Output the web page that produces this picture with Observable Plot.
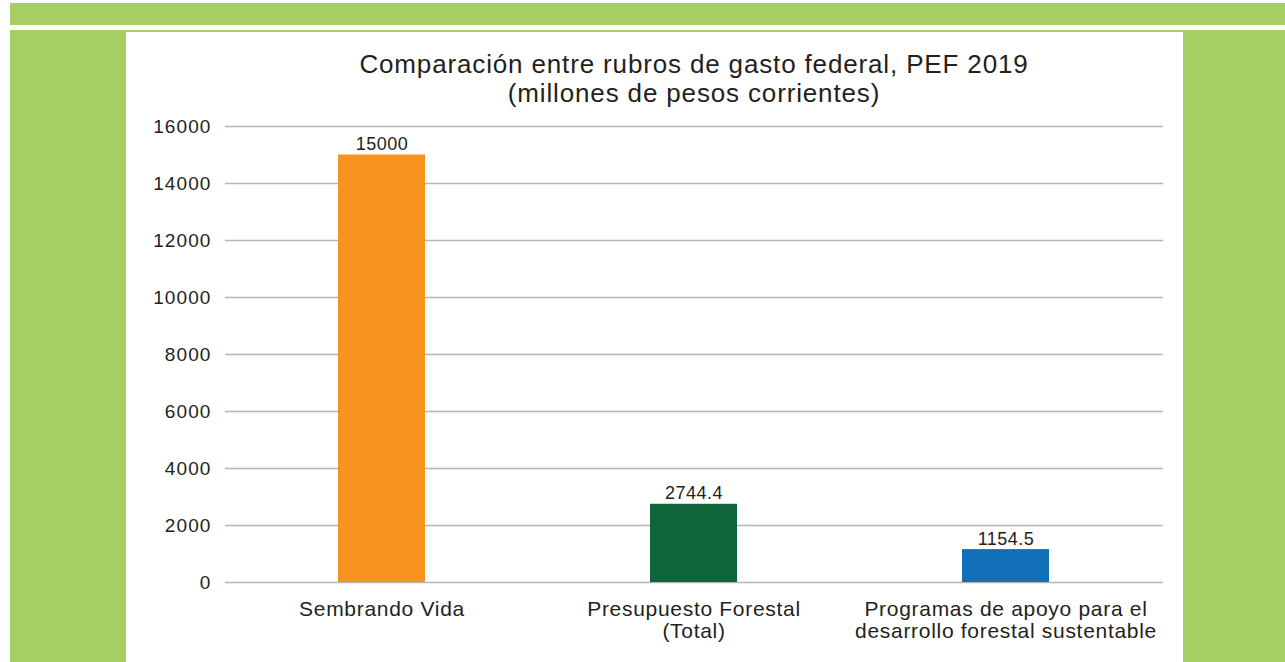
<!DOCTYPE html>
<html>
<head>
<meta charset="utf-8">
<script src="https://cdn.jsdelivr.net/npm/d3@7"></script>
<script src="https://cdn.jsdelivr.net/npm/@observablehq/plot@0.6"></script>
<style>
  html, body { margin: 0; padding: 0; background: #fff; width: 1285px; height: 662px; overflow: hidden; position: relative; }
  .green { position: absolute; background: #a6cf63; }
  #panel { position: absolute; left: 126px; top: 32px; width: 1057px; height: 630px; background: #fff; }
  #title { position: absolute; left: 99px; width: 938px; top: 17.7px; text-align: center;
           font-family: "Liberation Sans", Arial, sans-serif; font-size: 26px; line-height: 29.5px; letter-spacing: 0.85px; color: #231f20; }
  #title div { height: 29.5px; }
  #chart { position: absolute; left: 0; top: 0; }
  #chart g[aria-label="y-axis tick label"] text { letter-spacing: 1.1px; }
  #chart g[aria-label="x-axis tick label"] text { letter-spacing: 0.7px; }
  #chart g[aria-label="text"] text { letter-spacing: 0.5px; }
</style>
</head>
<body>
<div class="green" style="left:10px; top:3px; width:1275px; height:22px;"></div>
<div class="green" style="left:10px; top:30px; width:1275px; height:632px;"></div>
<div id="panel">
  <div id="chart"></div>
  <div id="title"><div>Comparación entre rubros de gasto federal, PEF 2019</div><div>(millones de pesos corrientes)</div></div>
</div>
<script>
const categories = ["Sembrando Vida", "Presupuesto Forestal (Total)", "Programas de apoyo para el desarrollo forestal sustentable"];
const categoryLabels = ["Sembrando Vida", "Presupuesto Forestal\n(Total)", "Programas de apoyo para el\ndesarrollo forestal sustentable"];
const values = [15000, 2744.4, 1154.5];
const valueLabels = ["15000", "2744.4", "1154.5"];
const barColors = ["#f7931e", "#10643a", "#1170b8"];
const yTicks = [0, 2000, 4000, 6000, 8000, 10000, 12000, 14000, 16000];

const data = categories.map((c, i) => ({cat: c, value: values[i], label: valueLabels[i]}));
const labelOf = new Map(categories.map((c, i) => [c, categoryLabels[i]]));

const chart = Plot.plot({
  width: 1057,
  height: 630,
  marginLeft: 99,
  marginRight: 20,
  marginTop: 94,
  marginBottom: 80,
  style: {fontFamily: "'Liberation Sans', Arial, sans-serif", color: "#231f20", background: "transparent"},
  x: {domain: categories, paddingInner: 0.72, paddingOuter: 0.36, axis: null, label: null},
  y: {domain: [0, 16000], axis: null, label: null},
  color: {domain: categories, range: barColors},
  marks: [
    Plot.gridY(yTicks, {stroke: "#b5b5b5", strokeOpacity: 1, strokeWidth: 1.5}),
    Plot.axisY(yTicks, {tickSize: 0, tickPadding: 14, fontSize: 19, label: null, tickFormat: d => String(d)}),
    Plot.barY(data, {x: "cat", y: "value", fill: "cat"}),
    Plot.text(data, {x: "cat", y: "value", text: "label", dy: -5, lineAnchor: "bottom", fontSize: 18, fill: "#231f20"}),
    Plot.axisX({tickSize: 0, tickPadding: 18, fontSize: 21, lineHeight: 1.05, label: null, tickFormat: d => labelOf.get(d)})
  ]
});
document.getElementById("chart").appendChild(chart);
</script>
</body>
</html>
